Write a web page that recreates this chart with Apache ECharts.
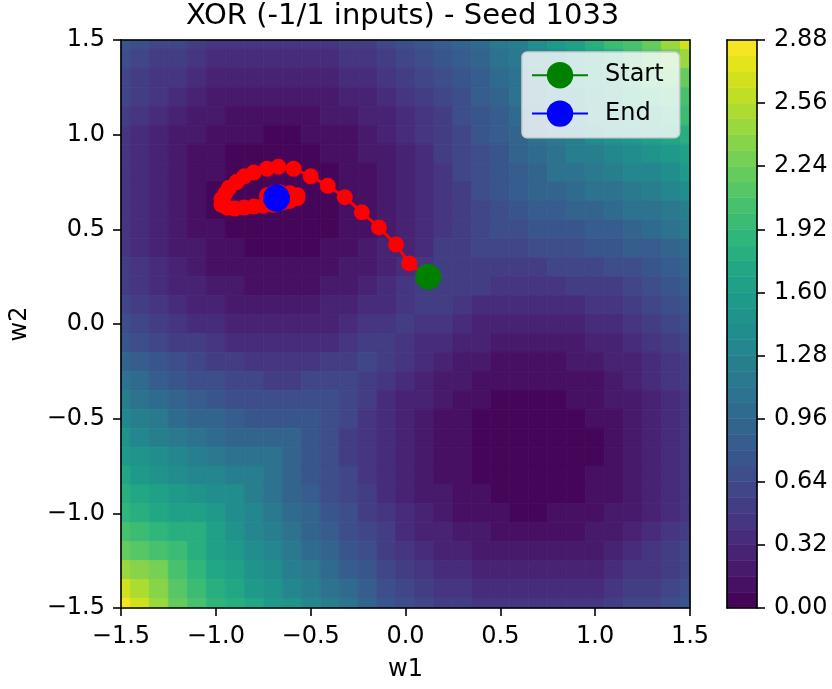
<!DOCTYPE html>
<html><head><meta charset="utf-8">
<script src="https://cdn.jsdelivr.net/npm/echarts@6/dist/echarts.min.js"></script>
<style>html,body{margin:0;padding:0;background:#fff}#c{width:832px;height:689px}</style>
</head><body><div id="c"></div>
<script>
// ---------------- data ----------------
const w1Values = [-1.5,-1.4,-1.3,-1.2,-1.1,-1.0,-0.9,-0.8,-0.7,-0.6,-0.5,-0.4,-0.3,-0.2,-0.1,0.0,0.1,0.2,0.3,0.4,0.5,0.6,0.7,0.8,0.9,1.0,1.1,1.2,1.3,1.4,1.5];
const w2Values = [1.5,1.4,1.3,1.2,1.1,1.0,0.9,0.8,0.7,0.6,0.5,0.4,0.3,0.2,0.1,0.0,-0.1,-0.2,-0.3,-0.4,-0.5,-0.6,-0.7,-0.8,-0.9,-1.0,-1.1,-1.2,-1.3,-1.4,-1.5];
// loss, one row per w2 value (top row w2 = 1.5), columns follow w1Values
const lossRows = [
[0.78,0.70,0.63,0.57,0.51,0.47,0.44,0.42,0.41,0.41,0.42,0.45,0.48,0.53,0.59,0.65,0.73,0.82,0.91,1.02,1.14,1.26,1.39,1.52,1.64,1.78,1.92,2.06,2.23,2.43,2.68],
[0.70,0.62,0.54,0.48,0.42,0.38,0.35,0.33,0.32,0.32,0.34,0.36,0.40,0.44,0.50,0.57,0.65,0.73,0.83,0.94,1.06,1.18,1.31,1.43,1.56,1.68,1.82,1.97,2.11,2.28,2.43],
[0.63,0.54,0.47,0.40,0.35,0.30,0.27,0.25,0.24,0.24,0.26,0.28,0.32,0.37,0.43,0.50,0.58,0.66,0.76,0.87,0.98,1.11,1.23,1.35,1.47,1.60,1.73,1.87,2.02,2.11,2.23],
[0.57,0.48,0.40,0.34,0.28,0.23,0.20,0.18,0.17,0.17,0.19,0.21,0.25,0.30,0.36,0.43,0.51,0.60,0.70,0.81,0.92,1.05,1.16,1.28,1.40,1.52,1.66,1.79,1.87,1.97,2.06],
[0.51,0.42,0.35,0.28,0.22,0.18,0.14,0.12,0.11,0.11,0.13,0.16,0.19,0.24,0.31,0.38,0.46,0.55,0.65,0.76,0.87,0.99,1.10,1.21,1.33,1.45,1.58,1.66,1.73,1.82,1.92],
[0.47,0.38,0.30,0.23,0.18,0.13,0.10,0.08,0.07,0.07,0.08,0.11,0.15,0.20,0.26,0.33,0.41,0.51,0.61,0.72,0.83,0.93,1.04,1.15,1.26,1.39,1.45,1.52,1.60,1.68,1.78],
[0.44,0.35,0.27,0.20,0.14,0.10,0.06,0.04,0.03,0.04,0.05,0.08,0.11,0.16,0.23,0.30,0.38,0.48,0.58,0.69,0.79,0.88,0.99,1.09,1.21,1.26,1.33,1.40,1.47,1.55,1.64],
[0.42,0.33,0.25,0.18,0.12,0.08,0.04,0.02,0.01,0.01,0.03,0.05,0.09,0.14,0.21,0.28,0.36,0.46,0.56,0.67,0.75,0.84,0.94,1.05,1.09,1.15,1.21,1.28,1.35,1.43,1.52],
[0.41,0.32,0.24,0.17,0.11,0.07,0.03,0.01,0.00,0.00,0.02,0.04,0.08,0.13,0.20,0.27,0.35,0.45,0.55,0.64,0.73,0.81,0.91,0.94,0.99,1.04,1.10,1.16,1.23,1.31,1.39],
[0.41,0.32,0.24,0.17,0.11,0.07,0.04,0.01,0.00,0.01,0.02,0.05,0.09,0.14,0.20,0.27,0.36,0.45,0.55,0.62,0.70,0.79,0.81,0.84,0.88,0.93,0.99,1.05,1.11,1.18,1.26],
[0.42,0.34,0.26,0.19,0.13,0.08,0.05,0.03,0.02,0.02,0.04,0.06,0.10,0.15,0.21,0.29,0.37,0.46,0.55,0.61,0.69,0.70,0.73,0.75,0.79,0.83,0.87,0.92,0.98,1.06,1.14],
[0.45,0.36,0.28,0.21,0.16,0.11,0.08,0.05,0.04,0.05,0.06,0.09,0.13,0.18,0.24,0.31,0.39,0.49,0.55,0.61,0.61,0.62,0.64,0.67,0.69,0.72,0.76,0.81,0.87,0.94,1.02],
[0.48,0.40,0.32,0.25,0.19,0.15,0.11,0.09,0.08,0.09,0.10,0.13,0.16,0.22,0.28,0.35,0.43,0.50,0.55,0.55,0.55,0.55,0.55,0.56,0.58,0.61,0.65,0.70,0.76,0.83,0.91],
[0.53,0.44,0.37,0.30,0.24,0.20,0.16,0.14,0.13,0.14,0.15,0.18,0.22,0.27,0.33,0.40,0.48,0.52,0.50,0.49,0.46,0.45,0.45,0.46,0.48,0.51,0.55,0.60,0.66,0.73,0.82],
[0.59,0.50,0.43,0.36,0.31,0.26,0.23,0.21,0.20,0.20,0.21,0.24,0.28,0.33,0.39,0.46,0.52,0.48,0.43,0.39,0.37,0.36,0.35,0.36,0.38,0.41,0.46,0.51,0.58,0.65,0.73],
[0.65,0.57,0.50,0.43,0.38,0.33,0.30,0.28,0.27,0.27,0.29,0.31,0.35,0.40,0.46,0.53,0.46,0.40,0.35,0.31,0.29,0.27,0.27,0.28,0.30,0.33,0.38,0.43,0.50,0.57,0.65],
[0.78,0.69,0.62,0.54,0.48,0.42,0.38,0.36,0.35,0.36,0.37,0.39,0.43,0.48,0.54,0.46,0.39,0.33,0.28,0.24,0.21,0.20,0.20,0.21,0.23,0.26,0.31,0.36,0.43,0.50,0.59],
[0.92,0.82,0.73,0.66,0.59,0.54,0.49,0.46,0.45,0.45,0.46,0.49,0.52,0.57,0.48,0.40,0.33,0.27,0.22,0.18,0.15,0.14,0.13,0.14,0.16,0.20,0.24,0.30,0.37,0.44,0.53],
[1.06,0.96,0.87,0.78,0.71,0.65,0.60,0.56,0.55,0.55,0.57,0.59,0.62,0.52,0.43,0.35,0.28,0.22,0.16,0.13,0.10,0.09,0.08,0.09,0.11,0.15,0.19,0.25,0.32,0.40,0.48],
[1.20,1.09,1.00,0.91,0.83,0.77,0.71,0.67,0.66,0.66,0.67,0.70,0.59,0.49,0.39,0.31,0.24,0.18,0.13,0.09,0.06,0.05,0.04,0.05,0.08,0.11,0.16,0.21,0.28,0.36,0.45],
[1.34,1.23,1.12,1.03,0.95,0.88,0.82,0.79,0.78,0.78,0.79,0.67,0.57,0.46,0.37,0.29,0.21,0.15,0.10,0.06,0.04,0.02,0.02,0.03,0.05,0.08,0.13,0.19,0.26,0.34,0.42],
[1.46,1.35,1.25,1.16,1.08,1.01,0.95,0.91,0.90,0.91,0.78,0.66,0.55,0.45,0.36,0.27,0.20,0.14,0.09,0.05,0.02,0.01,0.00,0.01,0.04,0.07,0.11,0.17,0.24,0.32,0.41],
[1.57,1.46,1.37,1.29,1.21,1.15,1.09,1.05,1.04,0.90,0.78,0.66,0.55,0.45,0.35,0.27,0.20,0.13,0.08,0.04,0.02,0.00,0.00,0.01,0.03,0.07,0.11,0.17,0.24,0.32,0.41],
[1.68,1.58,1.49,1.41,1.34,1.28,1.23,1.20,1.05,0.91,0.79,0.67,0.56,0.46,0.36,0.28,0.21,0.14,0.09,0.05,0.03,0.01,0.01,0.02,0.04,0.08,0.12,0.18,0.25,0.33,0.42],
[1.79,1.70,1.61,1.55,1.48,1.42,1.37,1.23,1.09,0.95,0.82,0.71,0.60,0.49,0.38,0.30,0.23,0.16,0.11,0.08,0.05,0.04,0.03,0.04,0.06,0.10,0.14,0.20,0.27,0.35,0.44],
[1.91,1.82,1.75,1.67,1.62,1.57,1.42,1.28,1.15,1.01,0.88,0.77,0.65,0.54,0.42,0.33,0.26,0.20,0.15,0.11,0.08,0.07,0.07,0.08,0.10,0.13,0.18,0.23,0.30,0.38,0.47],
[2.03,1.95,1.88,1.82,1.77,1.62,1.48,1.34,1.21,1.08,0.95,0.83,0.71,0.59,0.48,0.38,0.31,0.24,0.19,0.16,0.13,0.11,0.11,0.12,0.14,0.18,0.22,0.28,0.35,0.42,0.51],
[2.22,2.14,2.02,1.97,1.82,1.67,1.55,1.41,1.29,1.16,1.03,0.91,0.78,0.66,0.54,0.43,0.36,0.30,0.25,0.21,0.19,0.17,0.17,0.18,0.20,0.23,0.28,0.34,0.40,0.48,0.57],
[2.42,2.33,2.25,2.02,1.88,1.75,1.61,1.49,1.37,1.25,1.12,1.00,0.87,0.73,0.62,0.50,0.43,0.37,0.32,0.28,0.26,0.24,0.24,0.25,0.27,0.30,0.35,0.40,0.47,0.54,0.63],
[2.64,2.54,2.33,2.14,1.95,1.82,1.70,1.58,1.46,1.35,1.23,1.09,0.96,0.82,0.69,0.57,0.50,0.44,0.40,0.36,0.34,0.32,0.32,0.33,0.35,0.38,0.42,0.48,0.54,0.62,0.70],
[2.86,2.64,2.42,2.22,2.03,1.91,1.79,1.68,1.57,1.46,1.34,1.20,1.06,0.92,0.78,0.65,0.59,0.53,0.48,0.45,0.42,0.41,0.41,0.42,0.44,0.47,0.51,0.57,0.63,0.70,0.78]
];
const contourLevels = [0.00,0.08,0.16,0.24,0.32,0.40,0.48,0.56,0.64,0.72,0.80,0.88,0.96,1.04,1.12,1.20,1.28,1.36,1.44,1.52,1.60,1.68,1.76,1.84,1.92,2.00,2.08,2.16,2.24,2.32,2.40,2.48,2.56,2.64,2.72,2.80,2.88];
const axisTicks = [-1.5,-1.0,-0.5,0.0,0.5,1.0,1.5];
const colorbarTicks = [0.00,0.32,0.64,0.96,1.28,1.60,1.92,2.24,2.56,2.88];
const pathW1 = [0.12,0.02,-0.05,-0.14,-0.23,-0.32,-0.41,-0.50,-0.59,-0.67,-0.73,-0.80,-0.85,-0.89,-0.93,-0.95,-0.97,-0.97,-0.94,-0.90,-0.85,-0.80,-0.75,-0.70,-0.65,-0.61,-0.57,-0.57,-0.61,-0.66,-0.70,-0.73,-0.72,-0.70,-0.68];
const pathW2 = [0.25,0.32,0.42,0.51,0.59,0.67,0.73,0.78,0.82,0.83,0.82,0.80,0.78,0.75,0.72,0.69,0.66,0.63,0.615,0.61,0.615,0.62,0.625,0.63,0.64,0.65,0.665,0.68,0.69,0.695,0.69,0.68,0.67,0.665,0.665];
const startPoint = [0.12, 0.25];
const endPoint = [-0.68, 0.665];

// ---------------- colours ----------------
const VIRIDIS = ['#440154','#471365','#482475','#463480','#414487','#3b528b','#355f8d','#2f6c8e','#2a788e','#25848e','#21918c','#1e9c89','#22a884','#2fb47c','#44bf70','#5ec962','#7ad151','#9bd93c','#bddf26','#dfe318','#fde725'];
function hex2rgb(h){return [parseInt(h.slice(1,3),16),parseInt(h.slice(3,5),16),parseInt(h.slice(5,7),16)];}
function viridis(t){
  const n = VIRIDIS.length - 1;
  const x = Math.min(Math.max(t,0),1)*n;
  const k = Math.min(Math.floor(x), n-1);
  const f = x - k;
  const a = hex2rgb(VIRIDIS[k]), b = hex2rgb(VIRIDIS[k+1]);
  return 'rgb(' + a.map((v,i)=>Math.round(v + (b[i]-v)*f)).join(',') + ')';
}
const nBands = contourLevels.length - 1;
const bandColors = [];
for (let k = 0; k < nBands; k++) bandColors.push(viridis((k + 0.5) / nBands));
const pieces = bandColors.map((c,k) => k === nBands-1
  ? {gte: contourLevels[k], lte: contourLevels[k+1], color: c}
  : {gte: contourLevels[k], lt: contourLevels[k+1], color: c});

// ---------------- build series data ----------------
const cells = [];
lossRows.forEach((row, r) => row.forEach((v, c) => cells.push([w1Values[c], w2Values[r], v])));
const halfW = Math.abs(w1Values[1] - w1Values[0]) / 2;
const halfH = Math.abs(w2Values[1] - w2Values[0]) / 2;
const cbData = contourLevels.slice(0, -1).map((lo, k) => [0, lo, contourLevels[k+1], k]);
const pathData = pathW1.map((x, k) => [x, pathW2[k]]);

const FONT = 'DejaVu Sans';
const fmtAxis = v => v.toFixed(1).replace('-', '\u2212');
const lineOnly = {axisLabel:{show:false}, axisTick:{show:false}, splitLine:{show:false},
  axisLine:{show:true, onZero:false, lineStyle:{color:'#000', width:1.6}}, z:10};
const tickStyle = {show:true, inside:false, length:8, lineStyle:{color:'#000', width:1.6}};

const chart = echarts.init(document.getElementById('c'), null, {renderer:'canvas'});
chart.setOption({
  animation: false,
  backgroundColor: '#fff',
  title: {text:'XOR (-1/1 inputs) - Seed 1033', left:186, top:2, padding:0,
    textStyle:{fontSize:29, fontWeight:'normal', color:'#000', fontFamily:FONT}},
  grid: [
    {left:117, top:40, width:573, height:568},
    {left:727, top:40, width:30, height:568}
  ],
  xAxis: [
    {gridIndex:0, type:'value', min:axisTicks[0], max:axisTicks[axisTicks.length-1], interval:0.5, position:'bottom',
      axisLine:{show:true, onZero:false, lineStyle:{color:'#000', width:1.6}}, axisTick:tickStyle,
      axisLabel:{fontSize:24, color:'#000', margin:17, fontFamily:FONT, formatter:fmtAxis},
      splitLine:{show:false}, name:'w1', nameLocation:'middle', nameGap:50,
      nameTextStyle:{fontSize:24, color:'#000', fontFamily:FONT}, z:10},
    Object.assign({gridIndex:0, type:'value', min:-1.5, max:1.5, position:'top'}, lineOnly),
    Object.assign({gridIndex:1, type:'value', min:0, max:1, position:'bottom'}, lineOnly),
    Object.assign({gridIndex:1, type:'value', min:0, max:1, position:'top'}, lineOnly)
  ],
  yAxis: [
    {gridIndex:0, type:'value', min:axisTicks[0], max:axisTicks[axisTicks.length-1], interval:0.5, position:'left',
      axisLine:{show:true, onZero:false, lineStyle:{color:'#000', width:1.6}}, axisTick:tickStyle,
      axisLabel:{fontSize:24, color:'#000', margin:16, fontFamily:FONT, formatter:fmtAxis},
      splitLine:{show:false}, name:'w2', nameLocation:'middle', nameGap:89, nameRotate:90,
      nameTextStyle:{fontSize:24, color:'#000', fontFamily:FONT}, z:10},
    Object.assign({gridIndex:0, type:'value', min:-1.5, max:1.5, position:'right'}, lineOnly),
    {gridIndex:1, type:'value', min:colorbarTicks[0], max:colorbarTicks[colorbarTicks.length-1], interval:0.32, position:'right',
      axisLine:{show:true, onZero:false, lineStyle:{color:'#000', width:1.6}}, axisTick:tickStyle,
      axisLabel:{fontSize:24, color:'#000', margin:17, fontFamily:FONT, formatter:v=>v.toFixed(2)},
      splitLine:{show:false}, z:10},
    Object.assign({gridIndex:1, type:'value', min:0, max:2.88, position:'left'}, lineOnly)
  ],
  visualMap: {type:'piecewise', show:false, seriesIndex:0, dimension:2, pieces:pieces},
  legend: {data:['Start','End'], left:522, top:52, orient:'vertical', itemWidth:56, itemHeight:33, itemGap:12,
    textStyle:{fontSize:24, color:'#000', fontFamily:FONT, padding:[0,0,0,12]},
    backgroundColor:'rgba(255,255,255,0.8)', borderColor:'#cccccc', borderWidth:1.5, borderRadius:5,
    padding:[10,16,11,9], z:20},
  series: [
    {type:'custom', name:'loss', xAxisIndex:0, yAxisIndex:0, data:cells, encode:{x:0, y:1}, silent:true, z:1,
      renderItem: function(params, api){
        const x = api.value(0), y = api.value(1);
        const p0 = api.coord([x - halfW, y + halfH]);
        const p1 = api.coord([x + halfW, y - halfH]);
        const cs = params.coordSys;
        const shape = echarts.graphic.clipRectByRect(
          {x:p0[0], y:p0[1], width:p1[0]-p0[0], height:p1[1]-p0[1]},
          {x:cs.x, y:cs.y, width:cs.width, height:cs.height});
        if (!shape) return;
        const col = api.visual('color');
        return {type:'rect', shape:shape, style:{fill:col, stroke:col, lineWidth:0.8}};
      }},
    {type:'custom', name:'colorbar', xAxisIndex:2, yAxisIndex:2, data:cbData, encode:{x:0, y:[1,2]}, silent:true, z:1,
      renderItem: function(params, api){
        const p0 = api.coord([0, api.value(2)]);
        const p1 = api.coord([1, api.value(1)]);
        const col = bandColors[api.value(3)];
        return {type:'rect', shape:{x:p0[0], y:p0[1], width:p1[0]-p0[0], height:p1[1]-p0[1]},
          style:{fill:col, stroke:col, lineWidth:0.5}};
      }},
    {type:'line', name:'path', xAxisIndex:0, yAxisIndex:0, data:pathData, symbol:'circle', symbolSize:16,
      showAllSymbol:true, lineStyle:{color:'#ff0000', width:3}, itemStyle:{color:'#ff0000'}, z:4, silent:true},
    {type:'line', name:'Start', xAxisIndex:0, yAxisIndex:0, data:[startPoint], symbol:'circle', symbolSize:26,
      lineStyle:{color:'#008000', width:4}, itemStyle:{color:'#008000'}, z:6, silent:true},
    {type:'line', name:'End', xAxisIndex:0, yAxisIndex:0, data:[endPoint], symbol:'circle', symbolSize:27,
      lineStyle:{color:'#0000ff', width:4}, itemStyle:{color:'#0000ff'}, z:6, silent:true}
  ]
});
</script>
</body></html>
